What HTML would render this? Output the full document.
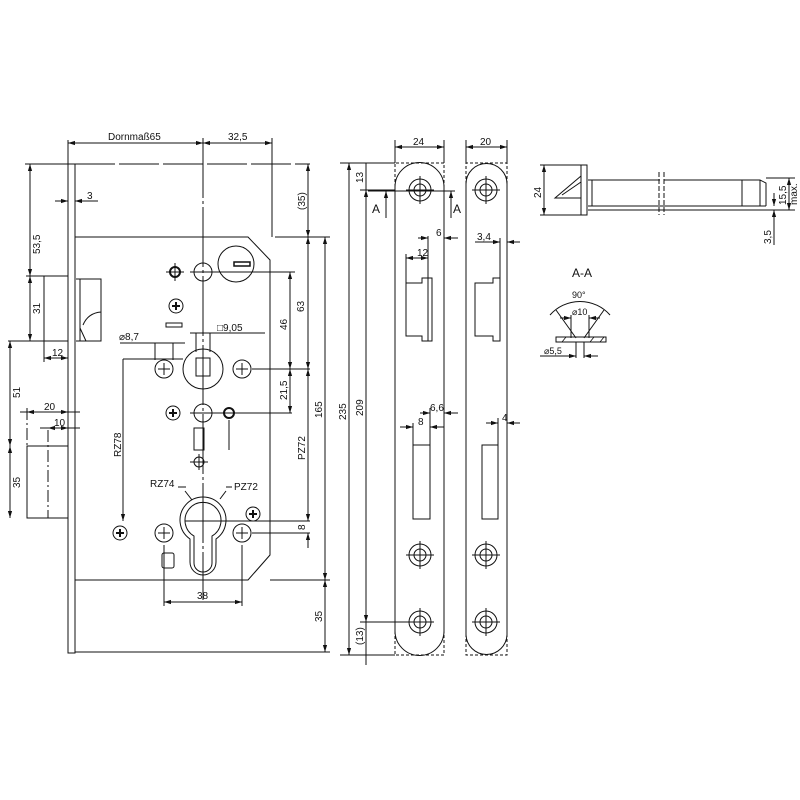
<!DOCTYPE html>
<html><head><meta charset="utf-8"><style>
html,body{margin:0;padding:0;background:#fff}
svg{display:block}
text{font-family:"Liberation Sans",sans-serif;font-size:10px;fill:#111}
</style></head><body>
<svg width="800" height="800" viewBox="0 0 800 800" xmlns="http://www.w3.org/2000/svg">
<defs>
<marker id="a" viewBox="0 0 10 10" refX="10" refY="5" markerWidth="7" markerHeight="7" orient="auto-start-reverse"><path d="M0,2 L10,5 L0,8 z" fill="#111"/></marker>
</defs>
<g stroke="#111" stroke-width="1" fill="none">
<!-- main lock -->
<rect x="68" y="164" width="7" height="489"/>
<path d="M75,237 H248 L270,260 V555 L248,580 H75"/>
<path d="M75,164 H310" stroke-dasharray="40,4"/>
<line x1="68" y1="140" x2="68" y2="164"/>
<line x1="203" y1="138" x2="203" y2="600" stroke-dasharray="60,3,3,3"/>
<line x1="272" y1="138" x2="272" y2="237"/>
<line x1="68" y1="143" x2="203" y2="143" marker-start="url(#a)" marker-end="url(#a)"/>
<line x1="203" y1="143" x2="272" y2="143" marker-start="url(#a)" marker-end="url(#a)"/>
<line x1="55" y1="201" x2="68" y2="201" marker-end="url(#a)"/>
<line x1="75" y1="201" x2="98" y2="201" marker-start="url(#a)"/>
<rect x="44" y="276" width="24" height="65"/>
<path d="M76,279 H101 V341 H76 M80,279 V341 M83,325 Q88,313 101,312 M80,328 L86,341"/>
<line x1="25" y1="164" x2="68" y2="164"/>
<line x1="30" y1="164" x2="30" y2="276" marker-start="url(#a)" marker-end="url(#a)"/>
<line x1="26" y1="276" x2="44" y2="276"/>
<line x1="30" y1="276" x2="30" y2="341" marker-start="url(#a)" marker-end="url(#a)"/>
<line x1="8" y1="341" x2="44" y2="341"/>
<line x1="44" y1="341" x2="44" y2="362"/>
<line x1="44" y1="358" x2="68" y2="358" marker-start="url(#a)" marker-end="url(#a)"/>
<line x1="10" y1="341" x2="10" y2="446" marker-start="url(#a)" marker-end="url(#a)"/>
<line x1="10" y1="446" x2="10" y2="518" marker-start="url(#a)" marker-end="url(#a)"/>
<path d="M68,446 H27 V518 H68"/>
<line x1="48" y1="430" x2="48" y2="518" stroke-dasharray="12,3,2,3"/>
<line x1="27" y1="408" x2="27" y2="446" stroke-dasharray="12,3,2,3"/>
<line x1="20" y1="412" x2="80" y2="412"/>
<line x1="27" y1="412" x2="68" y2="412" marker-start="url(#a)" marker-end="url(#a)"/>
<line x1="40" y1="428" x2="80" y2="428"/>
<line x1="48" y1="428" x2="68" y2="428" marker-start="url(#a)" marker-end="url(#a)"/>
<line x1="75" y1="652" x2="330" y2="652"/>
<!-- top features -->
<circle cx="175" cy="272" r="5" stroke-width="2"/>
<path d="M166,272 H184 M175,263 V281"/>
<circle cx="203" cy="272" r="9"/>
<line x1="190" y1="272" x2="295" y2="272"/>
<circle cx="236" cy="264" r="18"/>
<rect x="234" y="262" width="16" height="4" stroke-width="1.5"/>
<circle cx="176" cy="306" r="7"/>
<path d="M172,306 H180 M176,302 V310" stroke-width="2"/>
<rect x="166" y="323" width="16" height="4"/>
<line x1="190" y1="333" x2="265" y2="333"/>
<line x1="196" y1="333" x2="196" y2="352"/><line x1="210" y1="333" x2="210" y2="352"/>
<text x="217" y="331" stroke="none">□9,05</text>
<circle cx="203" cy="369" r="20"/>
<rect x="196" y="358" width="14" height="18"/>
<line x1="120" y1="343" x2="185" y2="343"/>
<line x1="155" y1="343" x2="155" y2="360"/><line x1="173" y1="343" x2="173" y2="360"/>
<text x="119" y="340" stroke="none">⌀8,7</text>
<circle cx="164" cy="369" r="9"/>
<path d="M158,369 H170 M164,363 V375"/>
<circle cx="242" cy="369" r="9"/>
<path d="M236,369 H248 M242,363 V375"/>
<line x1="123" y1="359" x2="183" y2="359"/>
<line x1="252" y1="369" x2="310" y2="369"/>
<line x1="123" y1="359" x2="123" y2="521" marker-end="url(#a)"/>
<line x1="290" y1="272" x2="290" y2="369" marker-start="url(#a)" marker-end="url(#a)"/>
<line x1="290" y1="369" x2="290" y2="413" marker-start="url(#a)" marker-end="url(#a)"/>
<line x1="275" y1="237" x2="330" y2="237"/>
<line x1="308" y1="237" x2="308" y2="369" marker-start="url(#a)" marker-end="url(#a)"/>
<line x1="308" y1="164" x2="308" y2="237" marker-start="url(#a)" marker-end="url(#a)"/>
<line x1="325" y1="237" x2="325" y2="580" marker-start="url(#a)" marker-end="url(#a)"/>
<line x1="325" y1="580" x2="325" y2="652" marker-start="url(#a)" marker-end="url(#a)"/>
<line x1="270" y1="580" x2="330" y2="580"/>
<!-- middle row -->
<circle cx="173" cy="413" r="7"/>
<path d="M169,413 H177 M173,409 V417" stroke-width="2"/>
<circle cx="203" cy="413" r="9"/>
<circle cx="229" cy="413" r="5" stroke-width="2"/>
<line x1="190" y1="413" x2="292" y2="413"/>
<line x1="229" y1="420" x2="229" y2="450"/>
<rect x="194" y="428" width="10" height="22"/>
<circle cx="199" cy="462" r="5"/>
<path d="M190,462 H208 M199,454 V470"/>
<!-- cylinder -->
<path d="M190,539 A23,23 0 1 1 216,539 V562 A13,13 0 0 1 190,562 Z"/>
<path d="M194,536 A18,18 0 1 1 212,536 V563 A9,9 0 0 1 194,563 Z"/>
<line x1="185" y1="521" x2="310" y2="521"/>
<path d="M185,491 L192,500"/><path d="M226,491 L220,499"/>
<circle cx="164" cy="533" r="9"/><path d="M158,533 H170 M164,527 V539"/>
<circle cx="242" cy="533" r="9"/><path d="M236,533 H248 M242,527 V539"/>
<line x1="252" y1="533" x2="310" y2="533"/>
<circle cx="120" cy="533" r="7"/><path d="M116,533 H124 M120,529 V537" stroke-width="2"/>
<circle cx="253" cy="514" r="7"/><path d="M249,514 H257 M253,510 V518" stroke-width="2"/>
<line x1="308" y1="369" x2="308" y2="521" marker-start="url(#a)" marker-end="url(#a)"/>
<line x1="308" y1="548" x2="308" y2="533" marker-end="url(#a)"/>
<rect x="162" y="553" width="12" height="15" rx="2"/>
<line x1="164" y1="545" x2="164" y2="606"/><line x1="242" y1="545" x2="242" y2="606"/>
<line x1="164" y1="602" x2="242" y2="602" marker-start="url(#a)" marker-end="url(#a)"/>
<line x1="178" y1="487" x2="186" y2="487"/>
<line x1="226" y1="487" x2="232" y2="487"/>
<!-- faceplate 1 -->
<path d="M395,631 V187 A24.5,24.5 0 0 1 444,187 V631 A24.5,24.5 0 0 1 395,631 Z"/>
<path d="M395,187 V163 H444 V187 M395,631 V655 H444 V631" stroke-dasharray="3,2"/>
<line x1="395" y1="140" x2="395" y2="163"/><line x1="444" y1="140" x2="444" y2="163"/>
<line x1="395" y1="147" x2="444" y2="147" marker-start="url(#a)" marker-end="url(#a)"/>
<circle cx="420" cy="190" r="11"/><circle cx="420" cy="190" r="6"/>
<path d="M406,190 H434 M420,176 V204"/>
<line x1="368" y1="191" x2="455" y2="191"/>
<line x1="386" y1="218" x2="386" y2="191" marker-end="url(#a)"/>
<line x1="451" y1="218" x2="451" y2="191" marker-end="url(#a)"/>
<path d="M406,283 V336 H422 V341 H432 V278 H422 V283 Z M428,278 V341"/>
<line x1="406" y1="254" x2="406" y2="283"/>
<line x1="428" y1="236" x2="428" y2="278"/>
<line x1="406" y1="258" x2="428" y2="258" marker-start="url(#a)" marker-end="url(#a)"/>
<line x1="418" y1="238" x2="428" y2="238" marker-end="url(#a)"/>
<line x1="444" y1="238" x2="458" y2="238" marker-start="url(#a)"/>
<rect x="413" y="445" width="17" height="74"/>
<line x1="413" y1="423" x2="413" y2="445"/><line x1="430" y1="408" x2="430" y2="445"/>
<line x1="400" y1="427" x2="413" y2="427" marker-end="url(#a)"/>
<line x1="430" y1="427" x2="444" y2="427" marker-start="url(#a)"/>
<line x1="420" y1="413" x2="430" y2="413" marker-end="url(#a)"/>
<line x1="444" y1="413" x2="458" y2="413" marker-start="url(#a)"/>
<circle cx="420" cy="555" r="11"/><circle cx="420" cy="555" r="6"/>
<path d="M406,555 H434 M420,541 V569"/>
<circle cx="420" cy="622" r="11"/><circle cx="420" cy="622" r="6"/>
<path d="M406,622 H434 M420,608 V636"/>
<line x1="340" y1="163" x2="395" y2="163"/>
<line x1="340" y1="655" x2="395" y2="655"/>
<line x1="360" y1="622" x2="406" y2="622"/>
<line x1="360" y1="190" x2="395" y2="190"/>
<line x1="349" y1="163" x2="349" y2="655" marker-start="url(#a)" marker-end="url(#a)"/>
<line x1="366" y1="190" x2="366" y2="622" marker-start="url(#a)" marker-end="url(#a)"/>
<line x1="366" y1="163" x2="366" y2="190"/>
<line x1="366" y1="622" x2="366" y2="665"/>
<!-- faceplate 2 -->
<path d="M466,634 V184 A20.5,20.5 0 0 1 507,184 V634 A20.5,20.5 0 0 1 466,634 Z"/>
<path d="M466,184 V163 H507 V184 M466,634 V655 H507 V634" stroke-dasharray="3,2"/>
<line x1="466" y1="140" x2="466" y2="163"/><line x1="507" y1="140" x2="507" y2="163"/>
<line x1="466" y1="147" x2="507" y2="147" marker-start="url(#a)" marker-end="url(#a)"/>
<circle cx="486" cy="190" r="11"/><circle cx="486" cy="190" r="6"/>
<path d="M472,190 H500 M486,176 V204"/>
<path d="M475,283 V336 H493 V341 H500 V278 H493 V283 Z"/>
<line x1="500" y1="238" x2="500" y2="278"/>
<line x1="475" y1="242" x2="500" y2="242" marker-end="url(#a)"/>
<line x1="507" y1="242" x2="520" y2="242" marker-start="url(#a)"/>
<rect x="482" y="445" width="16" height="74"/>
<line x1="498" y1="418" x2="498" y2="445"/>
<line x1="486" y1="423" x2="498" y2="423" marker-end="url(#a)"/>
<line x1="507" y1="423" x2="520" y2="423" marker-start="url(#a)"/>
<circle cx="486" cy="555" r="11"/><circle cx="486" cy="555" r="6"/>
<path d="M472,555 H500 M486,541 V569"/>
<circle cx="486" cy="622" r="11"/><circle cx="486" cy="622" r="6"/>
<path d="M472,622 H500 M486,608 V636"/>
<!-- side view -->
<rect x="581" y="165" width="6" height="50"/>
<path d="M581,176 L555,198 H581 M562,195 L581,182"/>
<path d="M588,180 H660 M664,180 H760 L766,183 V206 M588,206 H766 M592,180 V206 M588,210 H766 M760,180 V206 M742,180 V206"/>
<line x1="659" y1="172" x2="659" y2="215" stroke-dasharray="5,2"/>
<line x1="664" y1="172" x2="664" y2="215" stroke-dasharray="5,2"/>
<line x1="540" y1="165" x2="581" y2="165"/><line x1="540" y1="215" x2="581" y2="215"/>
<line x1="544" y1="165" x2="544" y2="215" marker-start="url(#a)" marker-end="url(#a)"/>
<line x1="766" y1="178" x2="795" y2="178"/><line x1="766" y1="210" x2="795" y2="210"/>
<line x1="789" y1="178" x2="789" y2="210" marker-start="url(#a)" marker-end="url(#a)"/>
<line x1="774" y1="193" x2="774" y2="206" marker-end="url(#a)"/>
<line x1="774" y1="210" x2="774" y2="245" marker-start="url(#a)"/>
<!-- A-A -->
<path d="M550,315 A40,40 0 0 1 610,315"/>
<line x1="556" y1="310" x2="576" y2="338"/><line x1="604" y1="310" x2="584" y2="338"/>
<path d="M556,337 H606 V342 H556 Z"/>
<path d="M562,342 L566,337 M590,342 L594,337 M600,342 L604,337" stroke-width="0.8"/>
<line x1="571" y1="315" x2="571" y2="338"/><line x1="589" y1="315" x2="589" y2="338"/>
<line x1="560" y1="318" x2="571" y2="318" marker-end="url(#a)"/>
<line x1="589" y1="318" x2="600" y2="318" marker-start="url(#a)"/>
<line x1="576" y1="342" x2="576" y2="358"/><line x1="584" y1="342" x2="584" y2="358"/>
<line x1="540" y1="356" x2="576" y2="356" marker-end="url(#a)"/>
<line x1="584" y1="356" x2="598" y2="356" marker-start="url(#a)"/>
</g>
<g stroke="none">
<text x="108" y="140">Dornmaß65</text>
<text x="228" y="140">32,5</text>
<text x="87" y="199">3</text>
<text x="52" y="356">12</text>
<text x="44" y="410">20</text>
<text x="54" y="426">10</text>
<text x="150" y="487">RZ74</text>
<text x="234" y="490">PZ72</text>
<text x="197" y="599">38</text>
<text x="413" y="145">24</text>
<text x="480" y="145">20</text>
<text x="436" y="236">6</text>
<text x="417" y="256">12</text>
<text x="477" y="240">3,4</text>
<text x="430" y="411">6,6</text>
<text x="418" y="425">8</text>
<text x="502" y="421">4</text>
<text x="372" y="213" style="font-size:12px">A</text>
<text x="453" y="213" style="font-size:12px">A</text>
<text x="572" y="277" style="font-size:12px">A-A</text>
<text x="572" y="298" style="font-size:9px">90°</text>
<text x="572" y="315" style="font-size:9px">⌀10</text>
<text x="544" y="354" style="font-size:9px">⌀5,5</text>
<g transform="rotate(-90)">
<text x="-254" y="40">53,5</text>
<text x="-314" y="40">31</text>
<text x="-398" y="20">51</text>
<text x="-488" y="20">35</text>
<text x="-210" y="305">(35)</text>
<text x="-312" y="304">63</text>
<text x="-330" y="287">46</text>
<text x="-400" y="287">21,5</text>
<text x="-457" y="121">RZ78</text>
<text x="-460" y="305">PZ72</text>
<text x="-418" y="322">165</text>
<text x="-530" y="305">8</text>
<text x="-622" y="322">35</text>
<text x="-420" y="346">235</text>
<text x="-416" y="363">209</text>
<text x="-183" y="363">13</text>
<text x="-645" y="363">(13)</text>
<text x="-198" y="541">24</text>
<text x="-205" y="786">15,5</text>
<text x="-205" y="797">max.</text>
<text x="-244" y="771">3,5</text>
</g>
</g>
</svg>
</body></html>
